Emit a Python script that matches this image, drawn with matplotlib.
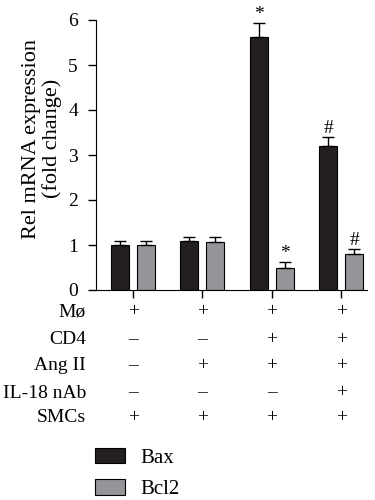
import numpy as np
import matplotlib.pyplot as plt
from matplotlib.transforms import blended_transform_factory

plt.rcParams['font.family'] = ['Liberation Serif', 'DejaVu Serif']

bax = [1.0, 1.08, 5.62, 3.21]
bax_err = [0.08, 0.10, 0.31, 0.18]
bcl2 = [1.0, 1.07, 0.48, 0.79]
bcl2_err = [0.10, 0.11, 0.15, 0.13]
bax_marks = ['', '', '*', '#']
bcl2_marks = ['', '', '*', '#']

row_labels = ['Mø', 'CD4', 'Ang II', 'IL-18 nAb', 'SMCs']
conditions = [
    ['+', '+', '+', '+'],
    ['–', '–', '+', '+'],
    ['–', '+', '+', '+'],
    ['–', '–', '–', '+'],
    ['+', '+', '+', '+'],
]

x = np.arange(len(bax))
w = 0.26
off = 0.1875

fig = plt.figure(figsize=(3.75, 5), dpi=100)
ax = fig.add_axes([0.256, 0.42, 0.723, 0.54])

ekw = dict(ecolor='black', elinewidth=1, capsize=4, capthick=1)
ax.bar(x - off, bax, w, color='#231f20', edgecolor='black', linewidth=0.8, label='Bax',
       yerr=[np.zeros(4), bax_err], error_kw=ekw)
ax.bar(x + off, bcl2, w, color='#939598', edgecolor='black', linewidth=0.8, label='Bcl2',
       yerr=[np.zeros(4), bcl2_err], error_kw=ekw)

for i in range(len(x)):
    if bax_marks[i]:
        ax.text(x[i] - off, bax[i] + bax_err[i], bax_marks[i], ha='center', va='bottom', fontsize=14)
    if bcl2_marks[i]:
        ax.text(x[i] + off, bcl2[i] + bcl2_err[i], bcl2_marks[i], ha='center', va='bottom', fontsize=14)

ax.set_xlim(-0.534, 3.375)
ax.set_ylim(0, 6)
ax.set_yticks(range(7))
ax.set_xticks(x)
ax.set_xticklabels([])
ax.spines['top'].set_visible(False)
ax.spines['right'].set_visible(False)
ax.tick_params(axis='y', labelsize=14, length=6, width=1, pad=7)
ax.tick_params(axis='x', length=6, width=1)
ax.set_ylabel('Rel mRNA expression\n(fold change)', fontsize=16, linespacing=1.05)
ax.yaxis.set_label_coords(-0.125, 0.56)

# condition table under the axis
tr = blended_transform_factory(ax.transData, fig.transFigure)
row_y = [1 - 312 / 500, 1 - 340 / 500, 1 - 366 / 500, 1 - 393 / 500, 1 - 418 / 500]
for r, label in enumerate(row_labels):
    fig.text(86 / 375, row_y[r], label, ha='right', va='center', fontsize=14)
    for i in range(len(x)):
        ax.text(x[i], row_y[r], conditions[r][i], transform=tr, ha='center', va='center',
                fontsize=14, clip_on=False)

fig.legend(loc='upper left', bbox_to_anchor=(95 / 375, 1 - 448 / 500), frameon=False,
           fontsize=15, handlelength=1.45, handleheight=0.75, labelspacing=0.55,
           handletextpad=0.75, borderpad=0, borderaxespad=0)

fig.savefig('out.png', dpi=100)
